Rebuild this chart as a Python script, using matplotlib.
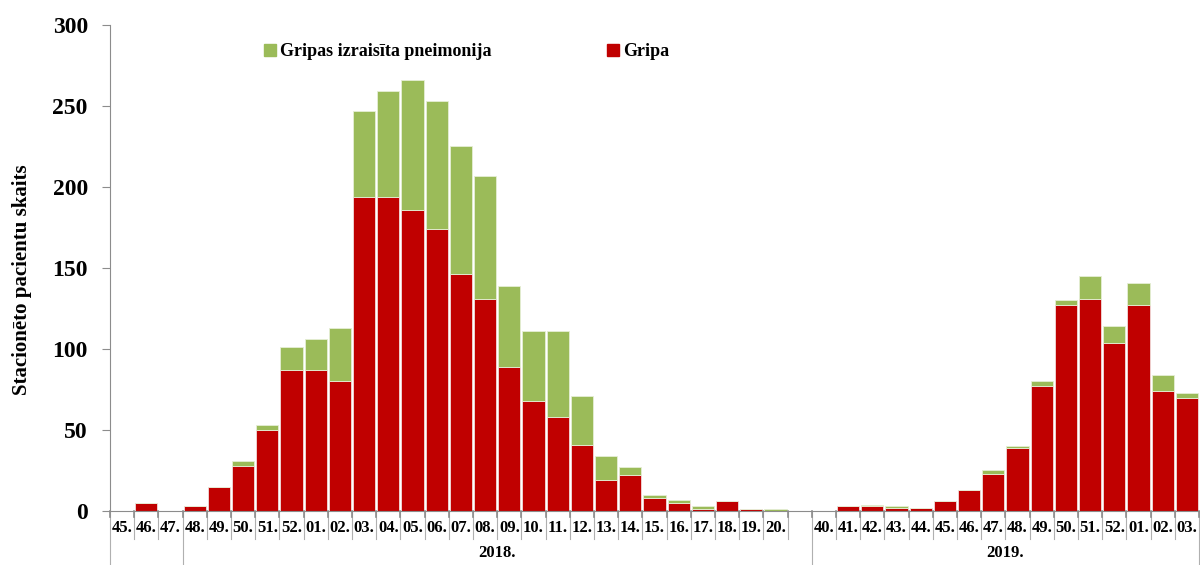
import numpy as np
import matplotlib.pyplot as plt
import matplotlib.transforms as mtransforms
from matplotlib.patches import Patch

plt.rcParams['font.family'] = ['Liberation Serif', 'DejaVu Serif']
plt.rcParams['font.weight'] = 'bold'

### Data

weeks = ['45.', '46.', '47.',
         '48.', '49.', '50.', '51.', '52.', '01.', '02.', '03.', '04.', '05.', '06.', '07.',
         '08.', '09.', '10.', '11.', '12.', '13.', '14.', '15.', '16.', '17.', '18.', '19.', '20.', '',
         '40.', '41.', '42.', '43.', '44.', '45.', '46.', '47.', '48.', '49.', '50.', '51.', '52.',
         '01.', '02.', '03.']

gripa = [0, 5, 0,
         3, 15, 28, 50, 87, 87, 80, 194, 194, 186, 174, 146,
         131, 89, 68, 58, 41, 19, 22, 8, 5, 1, 6, 1, 0, 0,
         0, 3, 3, 2, 2, 6, 13, 23, 39, 77, 127, 131, 104,
         127, 74, 70]

pneimonija = [0, 0, 0,
              0, 0, 3, 3, 14, 19, 33, 53, 65, 80, 79, 79,
              76, 50, 43, 53, 30, 15, 5, 2, 2, 2, 0, 0, 1, 0,
              0, 0, 1, 1, 0, 0, 0, 2, 1, 3, 3, 14, 10,
              14, 10, 3]

# group boundaries (index of first category in group) and the year label
groups = [(0, 3, ''), (3, 29, '2018.'), (29, 45, '2019.')]

red = '#C00000'
green = '#9BBB59'
grey = '#8C8C8C'

x = np.arange(len(weeks))

fig = plt.figure(figsize=(12, 5.65), dpi=100)
ax = fig.add_axes([0.0917, 0.0956, 0.9075, 0.8602])

ax.bar(x, gripa, width=0.92, color=red, edgecolor='#F2DCDB', linewidth=0.6, label='Gripa')
ax.bar(x, pneimonija, width=0.92, bottom=gripa, color=green, edgecolor='#E6EED5',
       linewidth=0.6, label='Gripas izraisīta pneimonija')

ax.set_xlim(-0.5, len(weeks) - 0.5)
ax.set_ylim(0, 300)
ax.set_yticks(range(0, 301, 50))
ax.tick_params(axis='y', direction='out', length=6, color=grey, labelsize=17, pad=10)
ax.set_xticks([])

for s in ['top', 'right']:
    ax.spines[s].set_visible(False)
ax.spines['left'].set_color(grey)
ax.spines['bottom'].set_color(grey)

ax.set_ylabel('Stacionēto pacientu skaits', fontsize=15, fontweight='bold')
ax.yaxis.set_label_coords(-0.072, 0.475)

# category labels under the axis with separating lines
trans = mtransforms.blended_transform_factory(ax.transData, ax.transAxes)
for i, w in enumerate(weeks):
    ax.text(i, -0.035, w, transform=trans, ha='center', va='center', fontsize=12, fontweight='bold')

starts = [g[0] for g in groups] + [len(weeks)]
for b in range(len(weeks) + 1):
    ylow = -0.111 if b in starts else -0.058
    ax.plot([b - 0.5, b - 0.5], [0, ylow], transform=trans, color='#B0B0B0', lw=0.8, clip_on=False)
    ax.plot([b - 0.5, b - 0.5], [0, -0.012], transform=trans, color=grey, lw=1.2, clip_on=False)

for g0, g1, year in groups:
    ax.text((g0 + g1 - 1) / 2, -0.086, year, transform=trans, ha='center', va='center',
            fontsize=12, fontweight='bold')

handles = [Patch(color=green), Patch(color=red)]
ax.legend(handles, ['Gripas izraisīta pneimonija', 'Gripa'], ncol=2, frameon=False,
          loc='center left', bbox_to_anchor=(0.126, 0.945), fontsize=13,
          handlelength=0.7, handleheight=0.7, handletextpad=0.2, columnspacing=6.4)

plt.savefig('out.png', dpi=100)
